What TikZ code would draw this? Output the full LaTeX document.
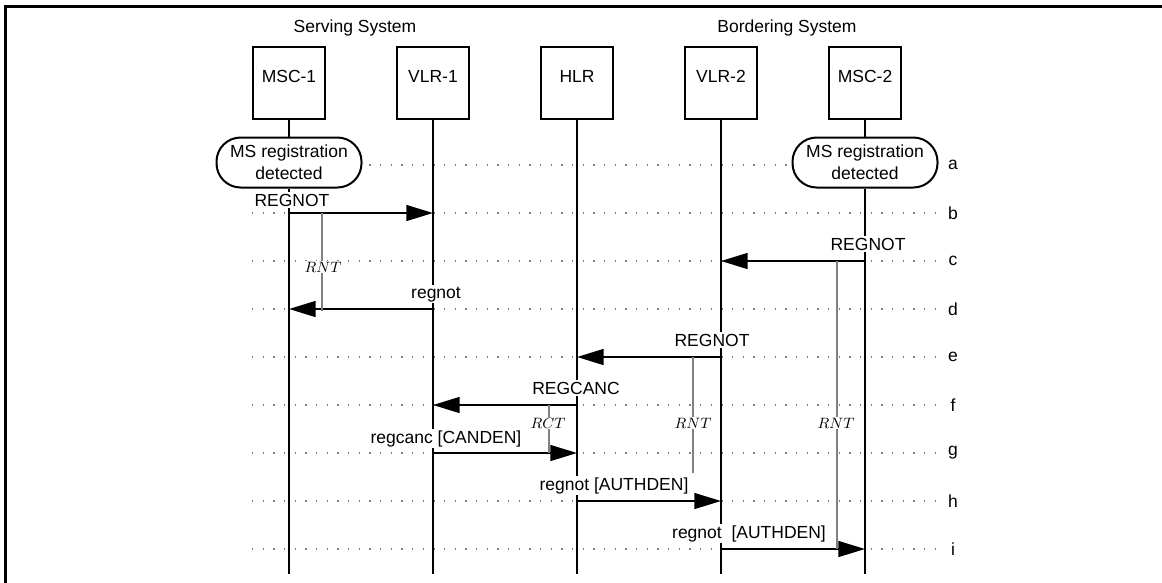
\documentclass[tikz,border=0pt]{standalone}
\usepackage{fontspec}
\setmainfont{Liberation Sans}
\usetikzlibrary{arrows.meta}
\begin{document}
\begin{tikzpicture}[x=0.6pt,y=-0.6pt,
  every node/.style={font=\fontsize{10.5}{13}\selectfont},
  entity/.style={draw,line width=1.2pt,minimum width=43pt,minimum height=43pt,text depth=8.4pt},
  event/.style={draw,line width=1.2pt,fill=white,rounded corners=14.5pt,minimum width=87pt,minimum height=30pt,align=center,inner sep=1pt},
  life/.style={line width=1.2pt},
  rowline/.style={gray,line width=0.7pt,dash pattern=on 0.7pt off 5.7pt},
  msg/.style={line width=1.2pt,-{Triangle[length=16pt,width=9.5pt]}},
  msglab/.style={fill=white,inner sep=1pt,anchor=base},
  timer/.style={gray,line width=0.9pt},
  timerlab/.style={fill=white,inner sep=0.5pt,font=\fontsize{9.4}{11}\selectfont}]
\useasboundingbox (0,0) rectangle (1162,582);
\draw[line width=1.8pt] (5.7,590) -- (5.7,6.7) -- (1170,6.7);
\node (serving) at (355,28) {Serving System};
\node (bordering) at (787,28) {Bordering System};
% rows
\foreach \r/\y in {a/165,b/213,c/261,d/309,e/357,f/405,g/453,h/501,i/549}{
  \draw[rowline] (252,\y) -- (935,\y);
  \node (r\r) at (953,\y) {\r};
}
\coordinate (bot) at (0,574);
% entities and lifelines
\foreach \n/\x/\t in {msc1/289/MSC-1,vlr1/433/VLR-1,hlr/577/HLR,vlr2/721/VLR-2,msc2/865/MSC-2}{
  \node[entity] (\n) at (\x,83) {\t};
}
\node[event] (det1) at (289,162.5) {MS registration\\detected};
\node[event] (det2) at (865,162.5) {MS registration\\detected};
\draw[life] (msc1) -- (det1);
\draw[life] (det1) -- (msc1 |- bot);
\draw[life] (msc2) -- (det2);
\draw[life] (det2) -- (msc2 |- bot);
\foreach \n in {vlr1,hlr,vlr2}
  \draw[life] (\n) -- (\n |- bot);
% messages
\draw[msg] (msc1 |- rb) -- (vlr1 |- rb);
\draw[msg] (msc2 |- rc) -- (vlr2 |- rc);
\draw[msg] (vlr1 |- rd) -- (msc1 |- rd);
\draw[msg] (vlr2 |- re) -- (hlr |- re);
\draw[msg] (hlr |- rf) -- (vlr1 |- rf);
\draw[msg] (vlr1 |- rg) -- (hlr |- rg);
\draw[msg] (hlr |- rh) -- (vlr2 |- rh);
\draw[msg] (vlr2 |- ri) -- (msc2 |- ri);
% timers
\draw[timer] (322,213) -- (322,311);
\draw[timer] (693,357) -- (693,473);
\draw[timer] (837,261) -- (837,549);
\draw[timer] (549,405) -- (549,453);
\node[timerlab] (rnt1) at (323,267) {$RNT$};
\node[timerlab] (rnt2) at (693,423) {$RNT$};
\node[timerlab] (rnt3) at (836,423) {$RNT$};
\node[timerlab] (rct) at (548,423) {$RCT$};
% message labels
\node[msglab] (lb) at (292,206) {REGNOT};
\node[msglab] (lc) at (868,250) {REGNOT};
\node[msglab] (ld) at (436,298) {regnot};
\node[msglab] (le) at (712,346) {REGNOT};
\node[msglab] (lf) at (576,394) {REGCANC};
\node[msglab] (lg) at (446,443) {regcanc [CANDEN]};
\node[msglab] (lh) at (614,490) {regnot [AUTHDEN]};
\node[msglab] (li) at (749,538) {regnot \ [AUTHDEN]};
\end{tikzpicture}
\end{document}
